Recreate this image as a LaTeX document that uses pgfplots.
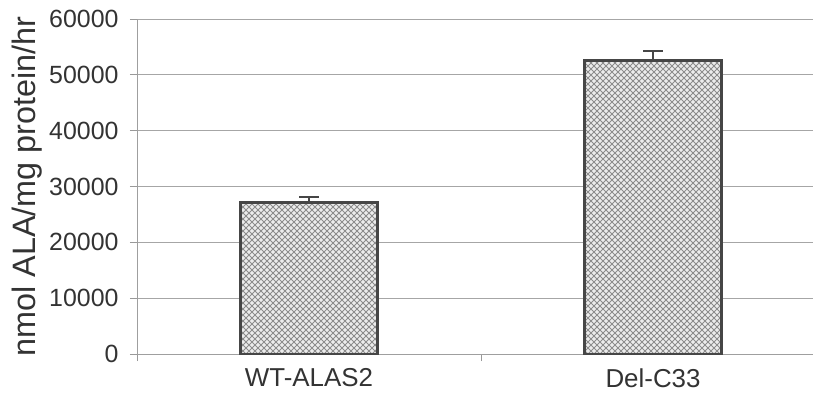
\documentclass[border=0pt]{standalone}
\usepackage{fontspec}
\setmainfont{Liberation Sans}
\usepackage{pgfplots}
\pgfplotsset{compat=1.18}
\usetikzlibrary{patterns.meta,calc}
\tikzdeclarepattern{
  name=xhatch,
  type=uncolored,
  bounding box={(-0.5bp,-0.5bp) and (6.5bp,6.5bp)},
  tile size={(6bp,6bp)},
  code={
    \draw[line width=0.8bp] (-0.5bp,-0.5bp) -- (6.5bp,6.5bp);
    \draw[line width=0.8bp] (-0.5bp,6.5bp) -- (6.5bp,-0.5bp);
  }
}
\definecolor{barline}{HTML}{464646}
\definecolor{txt}{HTML}{333333}
\begin{document}
\begin{tikzpicture}
\begin{axis}[
  at={(0,0)}, anchor=south west,
  scale only axis,
  width=676bp, height=335bp,
  xmin=-0.5, xmax=1.465,
  ymin=0, ymax=60000,
  ytick={0,10000,...,60000},
  scaled y ticks=false,
  /pgf/number format/assume math mode=true,
  yticklabel style={/pgf/number format/1000 sep={}, font=\fontsize{25}{27}\selectfont, text=txt, xshift=-8bp},
  xtick={-0.5,0.5},
  xticklabels={},
  x tick style={draw=gray!80, line width=0.7bp},
  extra x ticks={0,1},
  extra x tick labels={WT-ALAS2, Del-C33},
  extra x tick style={major tick length=0pt,
    xticklabel style={font=\fontsize{26}{28}\selectfont, text=txt, yshift=-11bp}},
  axis x line*=bottom,
  axis y line*=left,
  axis line style={draw=gray!75, line width=0.7bp, -},
  y tick style={draw=gray!80, line width=0.7bp},
  tick align=outside,
  major tick length=7bp,
  ymajorgrids,
  grid style={draw=gray!70, line width=0.7bp},
  ylabel={nmol ALA/mg protein/hr},
  ylabel style={at={(axis description cs:-0.162,0.5)}, anchor=center, font=\fontsize{32.5}{34}\selectfont, text=txt},
  bar width=0.4,
  clip=false,
]
\addplot[ybar, draw=barline, line width=2.8bp, fill=gray!15,
  postaction={pattern={xhatch}, pattern color=gray!90},
  error bars/.cd, y dir=plus, y explicit,
  error bar style={draw=barline, line width=1.7bp},
  error mark options={rotate=90, mark size=10bp, line width=1.7bp, draw=barline}]
coordinates {
  (0,27200) +- (0,900)
  (1,52500) +- (0,1800)
};
\end{axis}
\pgfresetboundingbox
\path[use as bounding box] ($(current axis.south west)+(-137bp,-54bp)$) rectangle ($(current axis.south west)+(676bp,354bp)$);
\end{tikzpicture}
\end{document}
